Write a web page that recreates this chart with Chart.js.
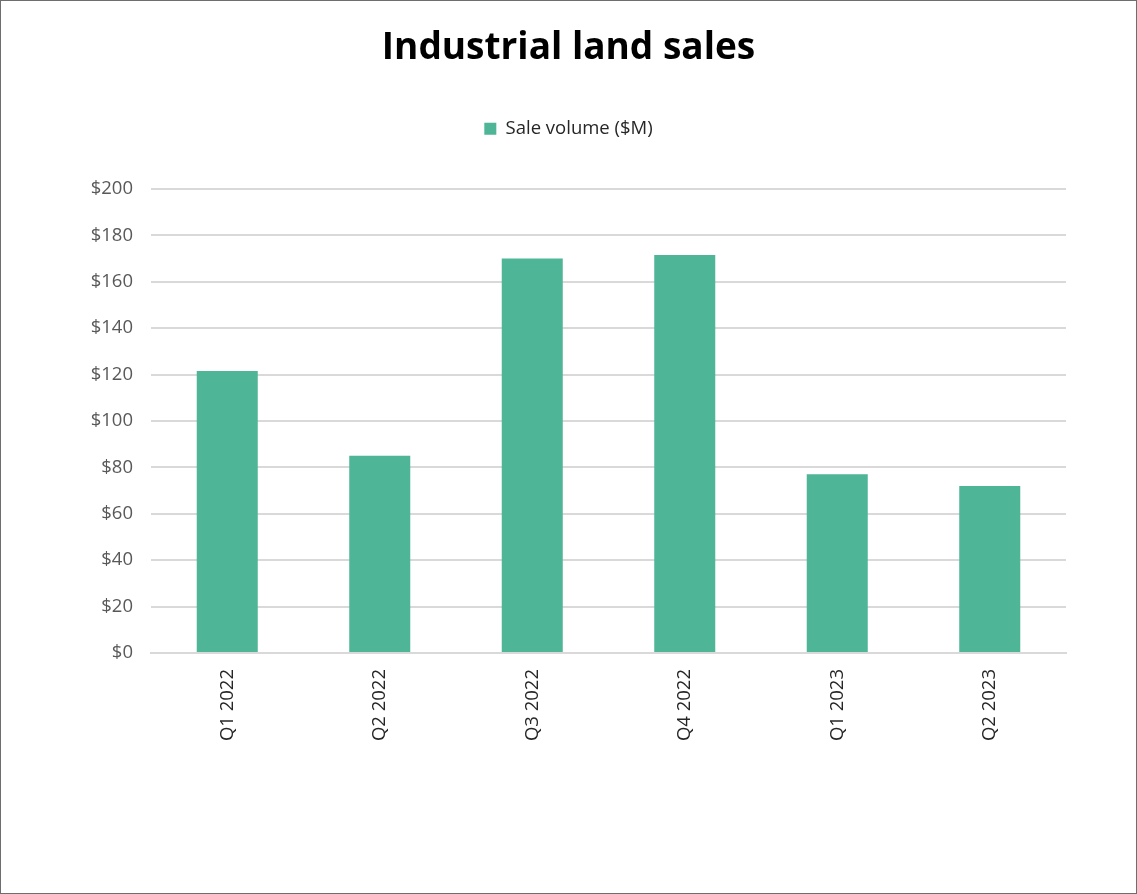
<!DOCTYPE html>
<html>
<head>
<meta charset="utf-8">
<script src="https://cdn.jsdelivr.net/npm/chart.js@4"></script>
<style>
    html, body { margin: 0; padding: 0; background: #fff; }
    #wrap { width: 1135px; height: 892px; border: 1px solid #6e6e6e; position: relative; }
    canvas { display: block; }
</style>
</head>
<body>
<div id="wrap"><canvas id="salesChart" width="1135" height="892"></canvas></div>
<script>
// quarterly industrial land sale volume, $M
const quarters = ['Q1 2022', 'Q2 2022', 'Q3 2022', 'Q4 2022', 'Q1 2023', 'Q2 2023'];
const saleVolume = [121.5, 85, 170, 171.5, 77, 72];
const seriesLabel = 'Sale volume ($M)';

// extra room between the legend and the plot
const legendGap = {
    id: 'legendGap',
    beforeInit(chart) {
        const origFit = chart.legend.fit;
        chart.legend.fit = function () {
            origFit.bind(chart.legend)();
            this.height += 41;
        };
    }
};

const ctx = document.getElementById('salesChart');

new Chart(ctx, {
    type: 'bar',
    data: {
        labels: quarters,
        datasets: [{
            label: seriesLabel,
            data: saleVolume,
            backgroundColor: '#4eb596',
            categoryPercentage: 0.8,
            barPercentage: 0.5
        }]
    },
    options: {
        responsive: false,
        animation: false,
        layout: {
            padding: { left: 70, right: 70, top: 25, bottom: 0 }
        },
        plugins: {
            title: {
                display: true,
                text: 'Industrial land sales',
                color: '#000',
                font: { family: 'Open Sans', size: 37, weight: 'bold' },
                padding: { top: 0, bottom: 39 }
            },
            legend: {
                labels: {
                    color: '#262626',
                    font: { family: 'Open Sans', size: 18.5 },
                    boxWidth: 12,
                    boxHeight: 12,
                    padding: 10
                }
            },
            tooltip: { enabled: false }
        },
        scales: {
            x: {
                grid: { display: false },
                border: { color: '#d9d9d9', width: 2 },
                ticks: {
                    color: '#262626',
                    font: { family: 'Open Sans', size: 18.5 },
                    minRotation: 90,
                    maxRotation: 90,
                    padding: 8
                },
                afterFit: (scale) => { scale.height = 240; }
            },
            y: {
                min: 0,
                max: 200,
                ticks: {
                    stepSize: 20,
                    color: '#595959',
                    font: { family: 'Open Sans', size: 18.5 },
                    padding: 18,
                    callback: (v) => '$' + v
                },
                grid: { color: '#d9d9d9', lineWidth: 2, drawTicks: false },
                border: { display: false },
                afterFit: (scale) => { scale.width = 80; }
            }
        }
    },
    plugins: [legendGap]
});
</script>
</body>
</html>
